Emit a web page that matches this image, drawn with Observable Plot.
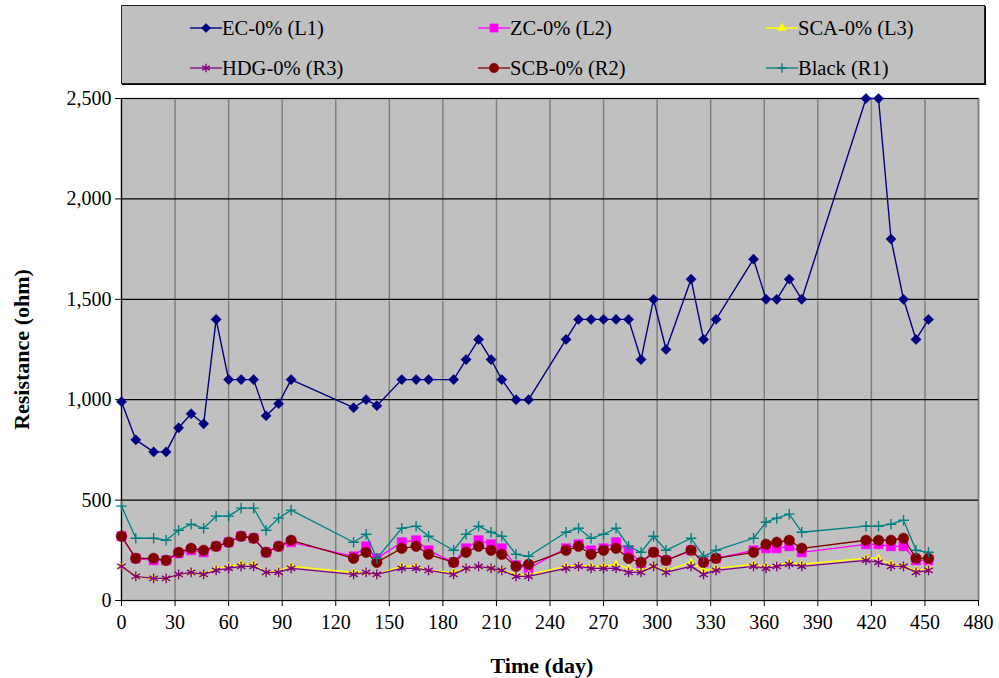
<!DOCTYPE html>
<html>
<head>
<meta charset="utf-8">
<script src="https://cdn.jsdelivr.net/npm/d3@7"></script>
<script src="https://cdn.jsdelivr.net/npm/@observablehq/plot@0.6"></script>
<style>
  html, body { margin: 0; padding: 0; background: white; }
  body { width: 999px; height: 678px; overflow: hidden; font-family: "Liberation Serif", "Times New Roman", serif; }
  #legend { position: relative; width: 999px; height: 90px; }
  #legend .box { position: absolute; left: 121px; top: 5px; width: 864px; height: 79px; box-sizing: border-box;
    background: #c0c0c0; border: 1px solid #222; box-shadow: 1px 1px 0 #000; }
  #legend .item { position: absolute; display: flex; align-items: center; height: 24px; font-size: 20.5px; color: black; white-space: nowrap; }
  #legend svg { display: block; }
  #chart svg { display: block; }
</style>
</head>
<body>
<div id="legend"><div class="box"></div></div>
<div id="chart"></div>
<script>
// ---- data ----
const days = [0, 8, 18, 25, 32, 39, 46, 53, 60, 67, 74, 81, 88, 95, 130, 137, 143, 157, 165, 172, 186, 193, 200, 207, 213, 221, 228, 249, 256, 263, 270, 277, 284, 291, 298, 305, 319, 326, 333, 354, 361, 367, 374, 381, 417, 424, 431, 438, 445, 452];
const EC = [990, 800, 740, 740, 860, 930, 880, 1400, 1100, 1100, 1100, 920, 980, 1100, 960, 1000, 970, 1100, 1100, 1100, 1100, 1200, 1300, 1200, 1100, 1000, 1000, 1300, 1400, 1400, 1400, 1400, 1400, 1200, 1500, 1250, 1600, 1300, 1400, 1700, 1500, 1500, 1600, 1500, 2500, 2500, 1800, 1500, 1300, 1400];
const ZC = [320, 210, 200, 200, 235, 250, 240, 270, 290, 320, 310, 240, 270, 290, 220, 270, 210, 290, 300, 250, 190, 260, 300, 280, 260, 175, 160, 260, 280, 250, 260, 290, 250, 185, 240, 200, 250, 190, 210, 250, 260, 260, 270, 240, 280, 280, 270, 270, 200, 200];
const SCA = [170, 120, 110, 110, 130, 140, 130, 160, 170, 180, 180, 140, 150, 170, 140, 140, 130, 170, 170, 150, 140, 160, 170, 160, 150, 130, 130, 170, 175, 170, 170, 180, 160, 150, 170, 150, 190, 150, 160, 180, 170, 175, 190, 180, 210, 210, 180, 170, 150, 160];
const HDG = [170, 120, 110, 110, 130, 140, 130, 150, 160, 170, 170, 140, 140, 160, 130, 140, 130, 160, 160, 150, 130, 160, 170, 160, 150, 120, 120, 160, 170, 160, 160, 160, 140, 140, 170, 140, 170, 130, 150, 170, 160, 170, 180, 170, 200, 190, 170, 170, 140, 150];
const SCB = [320, 210, 210, 200, 240, 260, 250, 270, 290, 320, 310, 240, 270, 300, 210, 240, 190, 260, 270, 230, 190, 240, 270, 250, 230, 170, 180, 250, 270, 230, 250, 260, 210, 190, 240, 200, 250, 190, 210, 240, 280, 290, 300, 260, 300, 300, 300, 310, 210, 210];
const Black = [470, 310, 310, 300, 350, 380, 360, 420, 420, 460, 460, 350, 410, 450, 290, 330, 210, 360, 370, 320, 250, 330, 370, 340, 320, 230, 220, 340, 360, 310, 330, 360, 270, 240, 320, 250, 310, 220, 250, 310, 390, 410, 430, 340, 370, 370, 380, 400, 250, 240];

const seriesNames = ["EC-0% (L1)", "ZC-0% (L2)", "SCA-0% (L3)", "HDG-0% (R3)", "SCB-0% (R2)", "Black (R1)"];
const xTicks = [0, 30, 60, 90, 120, 150, 180, 210, 240, 270, 300, 330, 360, 390, 420, 450, 480];
const yTicks = [0, 500, 1000, 1500, 2000, 2500];
const xTitle = "Time (day)";
const yTitle = "Resistance (ohm)";

// ---- styles per series ----
const styles = [
  {values: EC,    color: "#000080", symbol: "diamond2", r: 4.6, fill: true,  lw: 1.4},
  {values: ZC,    color: "#ff00ff", symbol: "square",   r: 5.2, fill: true,  lw: 1.3},
  {values: SCA,   color: "#ffff00", symbol: "triangle2",r: 3.6, fill: true,  lw: 1.5},
  {values: HDG,   color: "#800080", symbol: "asterisk", r: 4.6, fill: false, lw: 1.3},
  {values: SCB,   color: "#800000", symbol: "circle",   r: 5.3, fill: true,  lw: 1.3},
  {values: Black, color: "#008080", symbol: "plus",     r: 3.5, fill: false, lw: 1.3}
];

const seriesMarks = [];
styles.forEach((s, k) => {
  const data = days.map((d, i) => ({day: d, value: s.values[i]}));
  seriesMarks.push(Plot.line(data, {x: "day", y: "value", stroke: s.color, strokeWidth: s.lw}));
  seriesMarks.push(Plot.dot(data, s.fill
    ? {x: "day", y: "value", symbol: () => s.symbol, r: s.r, fill: s.color, stroke: s.color, strokeWidth: 0.5}
    : {x: "day", y: "value", symbol: () => s.symbol, r: s.r, fill: "none", stroke: s.color, strokeWidth: 1.4}));
});

const chart = Plot.plot({
  width: 999,
  height: 588,
  marginTop: 8,
  marginBottom: 78,
  marginLeft: 121,
  marginRight: 21,
  x: {domain: [0, 480]},
  y: {domain: [0, 2500]},
  symbol: {type: "identity"},
  style: {fontFamily: "'Liberation Serif', 'Times New Roman', serif", fontSize: "20px", background: "white", color: "black", overflow: "visible"},
  marks: [
    Plot.frame({fill: "#c0c0c0", stroke: "#808080", strokeWidth: 1.5}),
    Plot.ruleX(xTicks.filter(d => d > 0), {stroke: "#808080", strokeWidth: 1.5}),
    Plot.ruleY(yTicks.filter(d => d > 0), {stroke: "#000", strokeWidth: 1.2}),
    Plot.axisX({ticks: xTicks, tickSize: 6, tickPadding: 8, label: null, tickFormat: d => String(d), stroke: "#000"}),
    Plot.axisY({ticks: yTicks, tickSize: 6, tickPadding: 4, label: null, tickFormat: d3.format(","), stroke: "#000"}),
    Plot.ruleX([0], {stroke: "#000", strokeWidth: 1.2}),
    Plot.ruleY([0], {stroke: "#000", strokeWidth: 1.2}),
    ...seriesMarks,
    Plot.text([yTitle], {frameAnchor: "left", textAnchor: "middle", lineAnchor: "middle", rotate: -90, dx: -100, fontWeight: "bold", fontSize: 22}),
    Plot.text([xTitle], {frameAnchor: "bottom", textAnchor: "middle", lineAnchor: "middle", dx: -8, dy: 65, fontWeight: "bold", fontSize: 22})
  ]
});
document.getElementById("chart").appendChild(chart);

// ---- legend ----
const legend = document.getElementById("legend");
const colX = [190, 478, 766];
const rowY = [28, 68];
styles.forEach((s, k) => {
  const col = k % 3, row = Math.floor(k / 3);
  const item = document.createElement("div");
  item.className = "item";
  item.style.left = colX[col] + "px";
  item.style.top = (rowY[row] - 12) + "px";
  const svg = d3.create("svg").attr("width", 32).attr("height", 24);
  svg.append("line").attr("x1", 0).attr("x2", 32).attr("y1", 12).attr("y2", 12)
    .attr("stroke", s.color).attr("stroke-width", s.lw);
  const symMap = {diamond2: d3.symbolDiamond2, square: d3.symbolSquare, triangle2: d3.symbolTriangle,
                  asterisk: d3.symbolAsterisk, circle: d3.symbolCircle, plus: d3.symbolPlus};
  const path = d3.symbol(symMap[s.symbol], Math.PI * s.r * s.r * 0.8)();
  svg.append("path").attr("d", path).attr("transform", "translate(16,12)")
    .attr("fill", s.fill ? s.color : "none").attr("stroke", s.color).attr("stroke-width", s.fill ? 0.5 : 1.4);
  item.appendChild(svg.node());
  const label = document.createElement("span");
  label.textContent = seriesNames[k];
  item.appendChild(label);
  legend.appendChild(item);
});
</script>
</body>
</html>
